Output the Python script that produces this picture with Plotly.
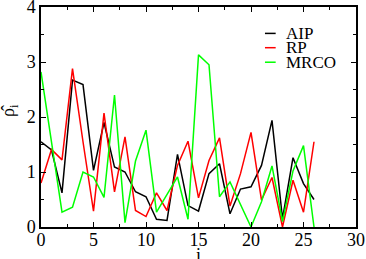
import plotly.graph_objects as go

idx = list(range(27))
aip = [1.55, 1.40, 0.62, 2.67, 2.59, 1.03, 1.90, 1.09, 1.00, 0.64, 0.55, 0.14, 0.12, 1.32,
       0.39, 0.29, 0.97, 1.15, 0.24, 0.69, 0.73, 1.12, 1.94, 0.15, 1.26, 0.79, 0.50]
rp = [0.80, 1.41, 1.22, 2.88, 1.55, 0.29, 2.07, 0.64, 1.64, 0.30, 0.19, 0.62, 0.30, 1.12,
      1.56, 0.53, 1.21, 1.62, 0.38, 0.97, 1.72, 0.49, 0.90, 0.00, 0.85, 0.27, 1.55]
mrco = [2.82, 1.56, 0.27, 0.36, 1.00, 0.91, 0.54, 2.40, 0.08, 1.20, 1.76, 0.27, 0.60, 0.91,
        0.14, 3.13, 2.95, 0.55, 0.82, 0.42, 0.00, 0.46, 1.11, 0.10, 1.02, 1.48, 0.00]

series = [("AIP", aip, "#000000"), ("RP", rp, "#ff0000"), ("MRCO", mrco, "#00ff00")]

SERIF = "Times New Roman, Liberation Serif, Times, serif"
tick_font = dict(family=SERIF, size=18, color="black")
leg_font = dict(family=SERIF, size=17, color="black")

fig = go.Figure()
for name, vals, col in series:
    fig.add_trace(go.Scatter(x=idx, y=vals, mode="lines", name=name,
                             line=dict(color=col, width=1.5), showlegend=False))

# manual legend (compact, like the original)
leg_y = [0.880, 0.815, 0.749]
shapes = []
annotations = []
for (name, vals, col), yy in zip(series, leg_y):
    shapes.append(dict(type="line", xref="paper", yref="paper", x0=0.711, x1=0.745,
                       y0=yy, y1=yy, line=dict(color=col, width=1.5)))
    annotations.append(dict(xref="paper", yref="paper", x=0.772, y=yy, text=name,
                            showarrow=False, xanchor="left", yanchor="middle", font=leg_font))

# axis titles
annotations.append(dict(xref="paper", yref="paper", x=0.5, y=-0.125, text="i",
                        showarrow=False, xanchor="center", yanchor="middle", font=tick_font))
annotations.append(dict(xref="paper", yref="paper", x=-0.1, y=0.53,
                        text="\u03c1\u0302<sub>i</sub>", textangle=-90,
                        showarrow=False, xanchor="center", yanchor="middle", font=tick_font))

axis_common = dict(showgrid=False, zeroline=False, showline=True, linecolor="black",
                   linewidth=1.5, mirror="allticks", ticks="inside", ticklen=5,
                   tickwidth=1, tickcolor="black", tickfont=tick_font, automargin=False,
                   ticklabeloverflow="allow")
fig.update_layout(
    width=366, height=259,
    margin=dict(l=41, r=10, t=7, b=32),
    paper_bgcolor="white", plot_bgcolor="white",
    font=tick_font,
    shapes=shapes, annotations=annotations,
    xaxis=dict(range=[0, 30], dtick=5, tick0=0, ticklabelstandoff=-4,
               minor=dict(dtick=2.5, ticklen=3, ticks="inside", tickcolor="black"),
               **axis_common),
    yaxis=dict(range=[0, 4], dtick=1, tick0=0, ticklabelstandoff=0,
               minor=dict(dtick=0.5, ticklen=3, ticks="inside", tickcolor="black"),
               **axis_common),
)
fig.write_html("out.html", config={"displayModeBar": False},
               post_script="document.body.style.margin='0';document.body.style.overflow='hidden';")
